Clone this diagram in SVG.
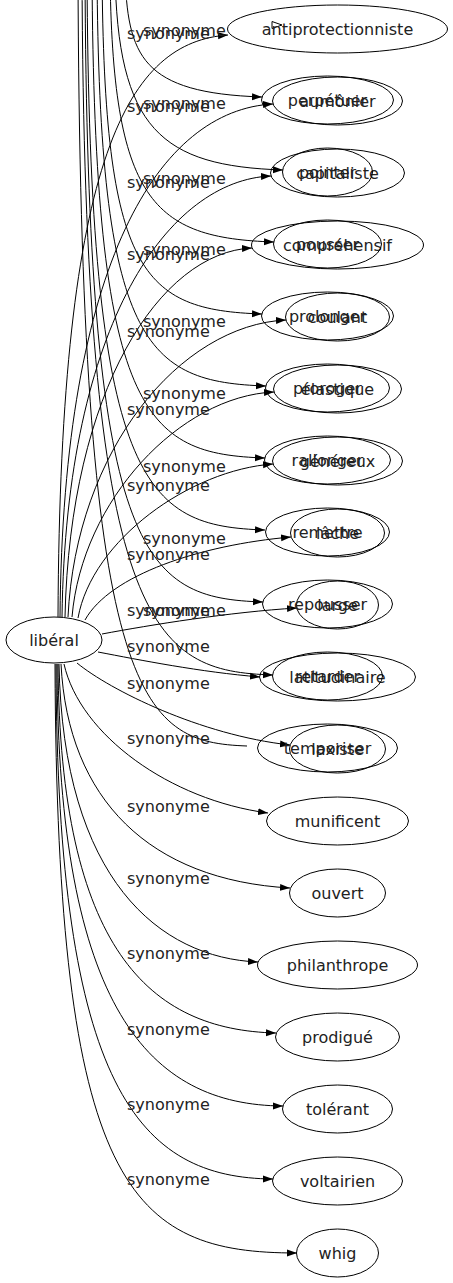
<svg xmlns="http://www.w3.org/2000/svg" width="453" height="1283" viewBox="0 0 453 1283">
<defs>
<marker id="ah" markerUnits="userSpaceOnUse" markerWidth="10" markerHeight="8" refX="10" refY="4" orient="auto" viewBox="0 0 10 8"><path d="M0,0.5 L10,4 L0,7.5 Z" fill="#000"/></marker>
<style>
.n ellipse{fill:none;stroke:#000;stroke-width:1}
text{font-family:"DejaVu Sans",sans-serif;font-size:16px;fill:#222}
.n text{text-anchor:middle}
#edges path{fill:none;stroke:#000;stroke-width:1}
#edges path.a{marker-end:url(#ah)}
</style>
</defs>
<rect width="453" height="1283" fill="#fff"/>
<g id="edges">
<path class="a" d="M58,617 C60,150 130,42 228,35"/>
<path class="a" d="M60,617 C63,260 160,110 273,104"/>
<path class="a" d="M62,617 C66,320 170,180 271,176"/>
<path class="a" d="M65,617 C70,390 160,252 252,248"/>
<path class="a" d="M68,617 C76,450 180,325 286,320"/>
<path class="a" d="M72,617 C82,500 180,396 274,392"/>
<path class="a" d="M78,618 C92,540 190,470 273,464"/>
<path class="a" d="M85,620 C110,575 200,545 291,537"/>
<path class="a" d="M102,634 C150,625 230,612 297,608"/>
<path class="a" d="M98,652 C140,660 200,672 260,677"/>
<path class="a" d="M77,663 C110,690 200,735 290,745"/>
<path class="a" d="M64,664 C80,735 170,800 268,813"/>
<path class="a" d="M61,664 C68,800 150,880 290,888"/>
<path class="a" d="M59,664 C63,880 160,958 258,962"/>
<path class="a" d="M58,664 C60,950 150,1030 276,1033"/>
<path class="a" d="M57,664 C58,1010 150,1105 283,1106"/>
<path class="a" d="M56,664 C57,1090 140,1178 273,1179"/>
<path class="a" d="M55,664 C57,1190 130,1253 297,1253"/>
<path class="a" d="M125,-30 C127,57 142,93 262,97"/>
<path class="a" d="M115,-30 C117,130 162,166 283,170"/>
<path class="a" d="M110,-30 C112,202 153,238 274,242"/>
<path class="a" d="M102,-30 C104,274 142,310 262,314"/>
<path class="a" d="M97,-30 C99,346 146,382 266,386"/>
<path class="a" d="M92,-30 C94,418 145,454 265,458"/>
<path class="a" d="M87,-30 C89,490 145,526 265,530"/>
<path class="a" d="M85,-30 C87,562 143,598 263,602"/>
<path class="a" d="M82,-30 C84,634 153,671 273,675"/>
<path d="M78,-30 C80,706 140,742 247,746"/>
<path d="M272,21.5 L282,25 L272,28.5 Z" fill="#000"/>
</g>
<g id="labels">
<text x="127" y="39.4">synonyme</text>
<text x="127" y="112">synonyme</text>
<text x="127" y="188">synonyme</text>
<text x="127" y="260.3">synonyme</text>
<text x="127" y="337">synonyme</text>
<text x="127" y="415.4">synonyme</text>
<text x="127" y="491.4">synonyme</text>
<text x="127" y="560.4">synonyme</text>
<text x="127" y="616">synonyme</text>
<text x="127" y="652">synonyme</text>
<text x="127" y="688.7">synonyme</text>
<text x="127" y="743.7">synonyme</text>
<text x="127" y="812">synonyme</text>
<text x="127" y="883.7">synonyme</text>
<text x="127" y="958.7">synonyme</text>
<text x="127" y="1035.4">synonyme</text>
<text x="127" y="1110.4">synonyme</text>
<text x="127" y="1184.7">synonyme</text>
<text x="143" y="36">synonyme</text>
<text x="143" y="108.7">synonyme</text>
<text x="143" y="183.7">synonyme</text>
<text x="143" y="255.3">synonyme</text>
<text x="143" y="327">synonyme</text>
<text x="143" y="399.4">synonyme</text>
<text x="143" y="472">synonyme</text>
<text x="143" y="543.7">synonyme</text>
<text x="143" y="616">synonyme</text>
</g>
<g id="liberal" class="n"><ellipse cx="54" cy="640" rx="48" ry="23"/><text x="54" y="645.5">libéral</text></g>
<g id="antiprotectionniste" class="n"><ellipse cx="337.5" cy="29" rx="110" ry="24"/><text x="337.5" y="34.5">antiprotectionniste</text></g>
<g id="aumonier" class="n"><ellipse cx="337.5" cy="101" rx="65" ry="24"/><text x="337.5" y="106.5">aumônier</text></g>
<g id="capitaliste" class="n"><ellipse cx="337.5" cy="173" rx="67" ry="24"/><text x="337.5" y="178.5">capitaliste</text></g>
<g id="comprehensif" class="n"><ellipse cx="337.5" cy="245" rx="86" ry="24"/><text x="337.5" y="250.5">compréhensif</text></g>
<g id="coulant" class="n"><ellipse cx="337.5" cy="317" rx="52" ry="24"/><text x="337.5" y="322.5">coulant</text></g>
<g id="elastique" class="n"><ellipse cx="337.5" cy="389" rx="64" ry="24"/><text x="337.5" y="394.5">élastique</text></g>
<g id="genereux" class="n"><ellipse cx="337.5" cy="461" rx="65" ry="24"/><text x="337.5" y="466.5">généreux</text></g>
<g id="lache" class="n"><ellipse cx="337.5" cy="533" rx="47" ry="24"/><text x="337.5" y="538.5">lâche</text></g>
<g id="large" class="n"><ellipse cx="337.5" cy="605" rx="41" ry="24"/><text x="337.5" y="610.5">large</text></g>
<g id="latitudinaire" class="n"><ellipse cx="337.5" cy="677" rx="78" ry="24"/><text x="337.5" y="682.5">latitudinaire</text></g>
<g id="laxiste" class="n"><ellipse cx="337.5" cy="749" rx="48" ry="24"/><text x="337.5" y="754.5">laxiste</text></g>
<g id="munificent" class="n"><ellipse cx="337.5" cy="821" rx="71" ry="24"/><text x="337.5" y="826.5">munificent</text></g>
<g id="ouvert" class="n"><ellipse cx="337.5" cy="893" rx="48" ry="24"/><text x="337.5" y="898.5">ouvert</text></g>
<g id="philanthrope" class="n"><ellipse cx="337.5" cy="965" rx="80" ry="24"/><text x="337.5" y="970.5">philanthrope</text></g>
<g id="prodigue" class="n"><ellipse cx="337.5" cy="1037" rx="62" ry="24"/><text x="337.5" y="1042.5">prodigué</text></g>
<g id="tolerant" class="n"><ellipse cx="337.5" cy="1109" rx="55" ry="24"/><text x="337.5" y="1114.5">tolérant</text></g>
<g id="voltairien" class="n"><ellipse cx="337.5" cy="1181" rx="65" ry="24"/><text x="337.5" y="1186.5">voltairien</text></g>
<g id="whig" class="n"><ellipse cx="337.5" cy="1253" rx="41" ry="24"/><text x="337.5" y="1258.5">whig</text></g>
<g id="perpetuer" class="n"><ellipse cx="327.5" cy="100" rx="66" ry="24"/><text x="327.5" y="105.5">perpétuer</text></g>
<g id="pointer" class="n"><ellipse cx="327.5" cy="172" rx="45" ry="24"/><text x="327.5" y="177.5">pointer</text></g>
<g id="pousser" class="n"><ellipse cx="327.5" cy="244" rx="54" ry="24"/><text x="327.5" y="249.5">pousser</text></g>
<g id="prolonger" class="n"><ellipse cx="327.5" cy="316" rx="66" ry="24"/><text x="327.5" y="321.5">prolonger</text></g>
<g id="proroger" class="n"><ellipse cx="327.5" cy="388" rx="62" ry="24"/><text x="327.5" y="393.5">proroger</text></g>
<g id="rallonger" class="n"><ellipse cx="327.5" cy="460" rx="63" ry="24"/><text x="327.5" y="465.5">rallonger</text></g>
<g id="remettre" class="n"><ellipse cx="327.5" cy="532" rx="62" ry="24"/><text x="327.5" y="537.5">remettre</text></g>
<g id="repousser" class="n"><ellipse cx="327.5" cy="604" rx="65" ry="24"/><text x="327.5" y="609.5">repousser</text></g>
<g id="retarder" class="n"><ellipse cx="327.5" cy="676" rx="55" ry="24"/><text x="327.5" y="681.5">retarder</text></g>
<g id="temporiser" class="n"><ellipse cx="327.5" cy="748" rx="70" ry="24"/><text x="327.5" y="753.5">temporiser</text></g>
</svg>
